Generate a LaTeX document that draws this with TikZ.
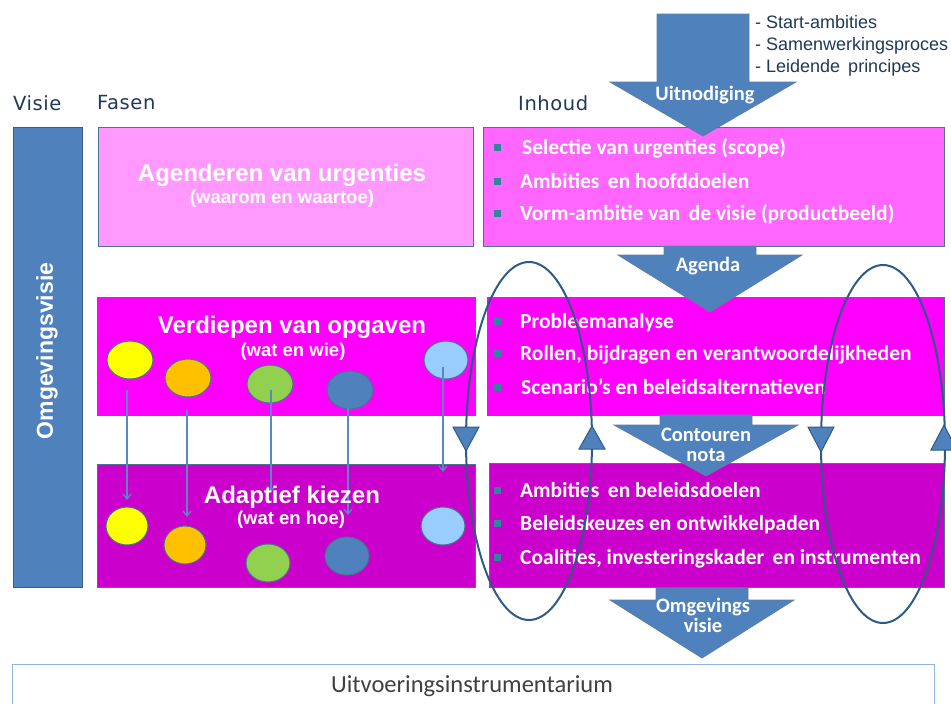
\documentclass[tikz,border=0pt]{standalone}
\usepackage{fontspec}
\setmainfont{Liberation Sans}
\newfontfamily\calib{Carlito}
\newfontfamily\verd[LetterSpace=3]{DejaVu Sans}
\usetikzlibrary{arrows.meta,shapes.geometric}

\definecolor{barblue}{HTML}{4F81BD}
\definecolor{barline}{HTML}{385D8A}
\definecolor{boxline}{HTML}{4A7391}
\definecolor{pinklight}{HTML}{FF99FF}
\definecolor{pinkmid}{HTML}{FF66FF}
\definecolor{magentabox}{HTML}{FF00FF}
\definecolor{purplebox}{HTML}{CC00CC}
\definecolor{loopblue}{HTML}{2E5A84}
\definecolor{bullteal}{HTML}{31859C}
\definecolor{headtext}{HTML}{1F3956}
\definecolor{cyellow}{HTML}{FFFF00}
\definecolor{corange}{HTML}{FFC000}
\definecolor{cgreen}{HTML}{92D050}
\definecolor{cblue}{HTML}{4F81BD}
\definecolor{clight}{HTML}{99CCFF}
\definecolor{thinblue}{HTML}{5B87C2}
\definecolor{footline}{HTML}{8EB4E3}

% down-pointing block arrow: centre x, shaft half width, top, head base, head half width, tip
\newcommand\blockarrowdown[6]{%
  \draw[blockarrow] (#1-#2,#3) -- (#1+#2,#3) -- (#1+#2,#4) -- (#1+#5,#4)
    -- (#1,#6) -- (#1-#5,#4) -- (#1-#2,#4) -- cycle;}
% bullet square at x, y centre
\newcommand\bulletsq[2]{\fill[bullteal] (#1-3.5,#2-3.5) rectangle (#1+3.5,#2+3.5);}

\begin{document}
\begin{tikzpicture}[x=1pt,y=-1pt,
  phasebox/.style={draw=boxline, line width=1.2pt, anchor=north west, inner sep=0pt},
  blob/.style={ellipse, draw=boxline, line width=1pt, minimum width=46pt, minimum height=38pt, inner sep=0pt},
  thinarrow/.style={draw=thinblue, line width=1.3pt, -{Straight Barb[length=5pt,width=8pt]}},
  blockarrow/.style={fill=barblue, draw=barline!80, line width=0.8pt},
  loopline/.style={ellipse, draw=loopblue, line width=2pt, inner sep=0pt},
  trihead/.style={fill=barblue, draw=loopblue, line width=1pt},
  title/.style={text=white, font=\fontsize{24}{26}\selectfont\bfseries},
  subtitle/.style={text=white, font=\fontsize{18.5}{20}\selectfont\bfseries},
  item/.style={text=white, anchor=base west, inner sep=0pt, font=\calib\fontsize{21.5}{23}\selectfont\bfseries},
  arrowlabel/.style={text=white, inner sep=0pt, font=\calib\fontsize{20.5}{22}\selectfont\bfseries},
  header/.style={text=headtext, anchor=west, inner sep=0pt, font=\verd\fontsize{19.5}{21}\selectfont},
  listtext/.style={text=headtext, anchor=west, inner sep=0pt, font=\fontsize{18}{20}\selectfont}
]
\useasboundingbox (0,0) rectangle (951,704);
\clip (0,0) rectangle (951,704);

% column headers
\node[header] (hVisie) at (13,103) {Visie};
\node[header] (hFasen) at (97,103) {Fasen};
\node[header] (hInhoud) at (518,103) {Inhoud};

% vision bar
\node[draw=barline, line width=1.2pt, fill=barblue, anchor=north west, minimum width=69pt, minimum height=460pt] (bar) at (13,127) {};
\node[rotate=90, text=white, font=\fontsize{23}{25}\selectfont\bfseries] (barText) at (47,351) {Omgevingsvisie};

% phase boxes
\node[phasebox, fill=pinklight, minimum width=375pt, minimum height=119pt] (phA) at (98,127) {};
\node[phasebox, fill=magentabox, minimum width=378pt, minimum height=118pt] (phB) at (97,297) {};
\node[phasebox, fill=purplebox, minimum width=378pt, minimum height=123pt] (phC) at (97,464) {};

% content boxes
\node[phasebox, fill=pinkmid, minimum width=461pt, minimum height=119pt] (inA) at (483,127) {};
\node[phasebox, fill=magentabox, minimum width=457pt, minimum height=118pt] (inB) at (487,297) {};
\node[phasebox, fill=purplebox, minimum width=455pt, minimum height=124pt] (inC) at (489,463) {};

% actors in the phase boxes
\node[blob, fill=cyellow] (b1) at (130,360) {};
\node[blob, fill=corange] (b2) at (188,378) {};
\node[blob, fill=cgreen] (b3) at (270,384) {};
\node[blob, fill=cblue] (b4) at (350,390) {};
\node[blob, fill=clight, minimum width=44pt] (b5) at (446,360) {};
\node[blob, fill=cyellow, minimum width=42pt] (c1) at (127,526) {};
\node[blob, fill=corange, minimum width=42pt] (c2) at (185,545) {};
\node[blob, fill=cgreen, minimum width=44pt] (c3) at (268,563) {};
\node[blob, fill=cblue, minimum width=44pt] (c4) at (347,556) {};
\node[blob, fill=clight, minimum width=44pt] (c5) at (443,526) {};

% links between the actors
\coordinate (s1) at (127,390); \coordinate (e1) at (127,500);
\coordinate (s2) at (187,410); \coordinate (e2) at (187,517);
\coordinate (s3) at (271,390); \coordinate (e3) at (271,492);
\coordinate (s4) at (348,408); \coordinate (e4) at (348,515);
\coordinate (s5) at (443,367); \coordinate (e5) at (443,472);
\draw[thinarrow] (s1) -- (e1);
\draw[thinarrow] (s2) -- (e2);
\draw[thinarrow] (s3) -- (e3);
\draw[thinarrow] (s4) -- (e4);
\draw[thinarrow] (s5) -- (e5);

% phase titles
\node[title] (tA) at (282,175) {Agenderen van urgenties};
\node[subtitle] (sA) at (282,199) {(waarom en waartoe)};
\node[title] (tB) at (292,327) {Verdiepen van opgaven};
\node[subtitle] (sB) at (293,352) {(wat en wie)};
\node[title] (tC) at (292,497) {Adaptief kiezen};
\node[subtitle] (sC) at (291,520) {(wat en hoe)};

% content items
\bulletsq{497}{147}\bulletsq{497}{181}\bulletsq{497}{213}
\node[item] (iA1) at (522,154) {Selectie van urgenties (scope)};
\node[item] (iA2) at (520,188) {Ambities\, en hoofddoelen};
\node[item] (iA3) at (520,220) {Vorm-ambitie van\, de visie (productbeeld)};
\bulletsq{497}{321}\bulletsq{497}{353}\bulletsq{497}{387}
\node[item] (iB1) at (520,328) {Probleemanalyse};
\node[item] (iB2) at (520,360) {Rollen, bijdragen en verantwoordelijkheden};
\node[item] (iB3) at (521,394) {Scenario’s en beleidsalternatieven};
\bulletsq{497}{490}\bulletsq{497}{523}\bulletsq{497}{557}
\node[item] (iC1) at (520,497) {Ambities\, en beleidsdoelen};
\node[item] (iC2) at (520,530) {Beleidskeuzes en ontwikkelpaden};
\node[item] (iC3) at (520,564) {Coalities, investeringskader\, en instrumenten};

% feedback loops
\node[loopline, minimum width=126pt, minimum height=358pt] (loopL) at (529,441) {};
\node[loopline, minimum width=124pt, minimum height=358pt] (loopR) at (883,444) {};
\draw[trihead] (453,427) -- (479,427) -- (466,451) -- cycle;
\draw[trihead] (579,449) -- (605,449) -- (592,426) -- cycle;
\draw[trihead] (808,427) -- (834,427) -- (821,452) -- cycle;
\draw[trihead] (931,450) -- (957,450) -- (944,425) -- cycle;

% process arrows
\blockarrowdown{703}{46}{14}{82}{93}{136}
\blockarrowdown{710}{46}{246}{255}{92}{312}
\blockarrowdown{706}{46}{415}{425}{92}{476}
\blockarrowdown{702}{46}{588}{600}{92}{658}
\node[arrowlabel] (lUit) at (705,95) {Uitnodiging};
\node[arrowlabel] (lAg) at (708,266) {Agenda};
\node[arrowlabel] (lCon1) at (706,435) {Contouren};
\node[arrowlabel] (lCon2) at (706,455) {nota};
\node[arrowlabel] (lOmg1) at (703,607) {Omgevings};
\node[arrowlabel] (lOmg2) at (703,625) {visie};

% inputs listed next to the first arrow
\node[listtext] (l1) at (755,22) {- Start-ambities};
\node[listtext] (l2) at (755,46) {- Samenwerkingsproces};
\node[listtext] (l3) at (755,68) {- Leidende\, principes};

% implementation layer
\node[draw=footline, line width=1.2pt, fill=white, anchor=north west, minimum width=922pt, minimum height=60pt] (foot) at (12,664) {};
\node[text=black!75, font=\calib\fontsize{24.5}{26}\selectfont] (footText) at (472,686) {Uitvoeringsinstrumentarium};
\end{tikzpicture}
\end{document}
